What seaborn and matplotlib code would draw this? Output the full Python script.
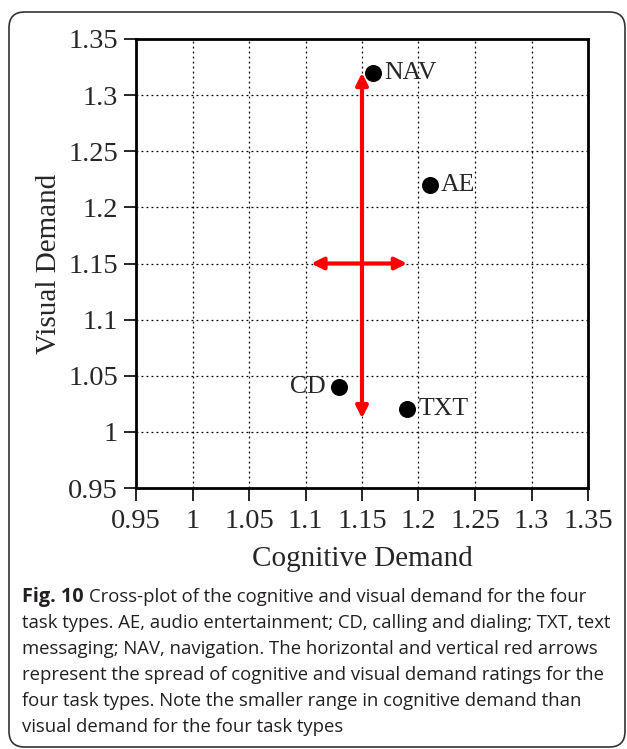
import matplotlib
matplotlib.use("Agg")
import matplotlib.pyplot as plt
import seaborn as sns
import pandas as pd
from matplotlib.patches import FancyBboxPatch

tasks = ["NAV", "AE", "CD", "TXT"]
cognitive = [1.16, 1.21, 1.13, 1.19]
visual = [1.32, 1.22, 1.04, 1.02]
label_side = ["right", "right", "left", "right"]

# spread arrows (data coordinates)
v_arrow_x = 1.15
v_arrow_y = [1.012, 1.32]
h_arrow_y = 1.15
h_arrow_x = [1.105, 1.19]

ticks = [0.95, 1, 1.05, 1.1, 1.15, 1.2, 1.25, 1.3, 1.35]
tick_labels = ["0.95", "1", "1.05", "1.1", "1.15", "1.2", "1.25", "1.3", "1.35"]

caption_lines = [
    "Cross-plot of the cognitive and visual demand for the four",
    "task types. AE, audio entertainment; CD, calling and dialing; TXT, text",
    "messaging; NAV, navigation. The horizontal and vertical red arrows",
    "represent the spread of cognitive and visual demand ratings for the",
    "four task types. Note the smaller range in cognitive demand than",
    "visual demand for the four task types",
]

df = pd.DataFrame({"task": tasks, "Cognitive Demand": cognitive, "Visual Demand": visual})

sns.set_style("white")
plt.rcParams["font.family"] = ["Liberation Serif", "DejaVu Serif"]

fig = plt.figure(figsize=(6.27, 7.49), dpi=100)
W, H = 627, 749

# outer rounded frame
frame = FancyBboxPatch((9 / W, 2 / H), 616 / W, 735 / H,
                       boxstyle="round,pad=0,rounding_size=0.025",
                       transform=fig.transFigure, fill=False, edgecolor="#333333",
                       linewidth=1.2, mutation_aspect=W / H)
fig.patches.append(frame)

ax = fig.add_axes([136 / W, 1 - 488 / H, 452 / W, 449 / H])

ax.set_xlim(0.95, 1.35)
ax.set_ylim(0.95, 1.35)
ax.set_xticks(ticks)
ax.set_xticklabels(tick_labels)
ax.set_yticks(ticks)
ax.set_yticklabels(tick_labels)
ax.grid(True, linestyle=(0, (1.5, 2.5)), color="black", linewidth=0.9)
ax.set_axisbelow(True)

# arrows
astyle = "<|-|>,head_length=0.7,head_width=0.35"
ax.annotate("", xy=(v_arrow_x, v_arrow_y[1]), xytext=(v_arrow_x, v_arrow_y[0]),
            arrowprops=dict(arrowstyle=astyle, color="red", lw=3,
                            shrinkA=0, shrinkB=0), zorder=3)
ax.annotate("", xy=(h_arrow_x[1], h_arrow_y), xytext=(h_arrow_x[0], h_arrow_y),
            arrowprops=dict(arrowstyle=astyle, color="red", lw=3,
                            shrinkA=0, shrinkB=0), zorder=3)

sns.scatterplot(data=df, x="Cognitive Demand", y="Visual Demand", ax=ax,
                color="black", s=150, edgecolor="black", linewidth=0, zorder=4)

for t, cx, vy, side in zip(tasks, cognitive, visual, label_side):
    if side == "right":
        ax.annotate(t, (cx, vy), xytext=(8, 0), textcoords="offset points",
                    ha="left", va="center", fontsize=18.5)
    else:
        ax.annotate(t, (cx, vy), xytext=(-10, 0), textcoords="offset points",
                    ha="right", va="center", fontsize=18.5)

for s in ax.spines.values():
    s.set_visible(True)
    s.set_linewidth(2)
    s.set_color("black")

ax.tick_params(axis="both", direction="out", length=9, width=1.2, color="black",
               labelsize=20.5, bottom=True, left=True)
ax.tick_params(axis="x", pad=6)
ax.tick_params(axis="y", pad=4)
ax.set_xlabel("Cognitive Demand", fontsize=21, labelpad=8.5)
ax.set_ylabel("Visual Demand", fontsize=21, labelpad=4.5)

# caption
cap_font = ["Open Sans", "DejaVu Sans"]
cap_size = 13.3
y0 = 597
for i, line in enumerate(caption_lines):
    yy = 1 - (y0 + 26 * i) / H
    if i == 0:
        t1 = fig.text(22 / W, yy, "Fig. 10 ", fontsize=14.3, fontweight="bold",
                      family=cap_font, va="center", ha="left", color="#231f20")
        fig.canvas.draw()
        bb = t1.get_window_extent()
        fig.text(bb.x1 / W, yy, line, fontsize=cap_size, family=cap_font,
                 va="center", ha="left", color="#231f20")
    else:
        fig.text(22 / W, yy, line, fontsize=cap_size, family=cap_font,
                 va="center", ha="left", color="#231f20")

fig.savefig("out.png", dpi=100)
